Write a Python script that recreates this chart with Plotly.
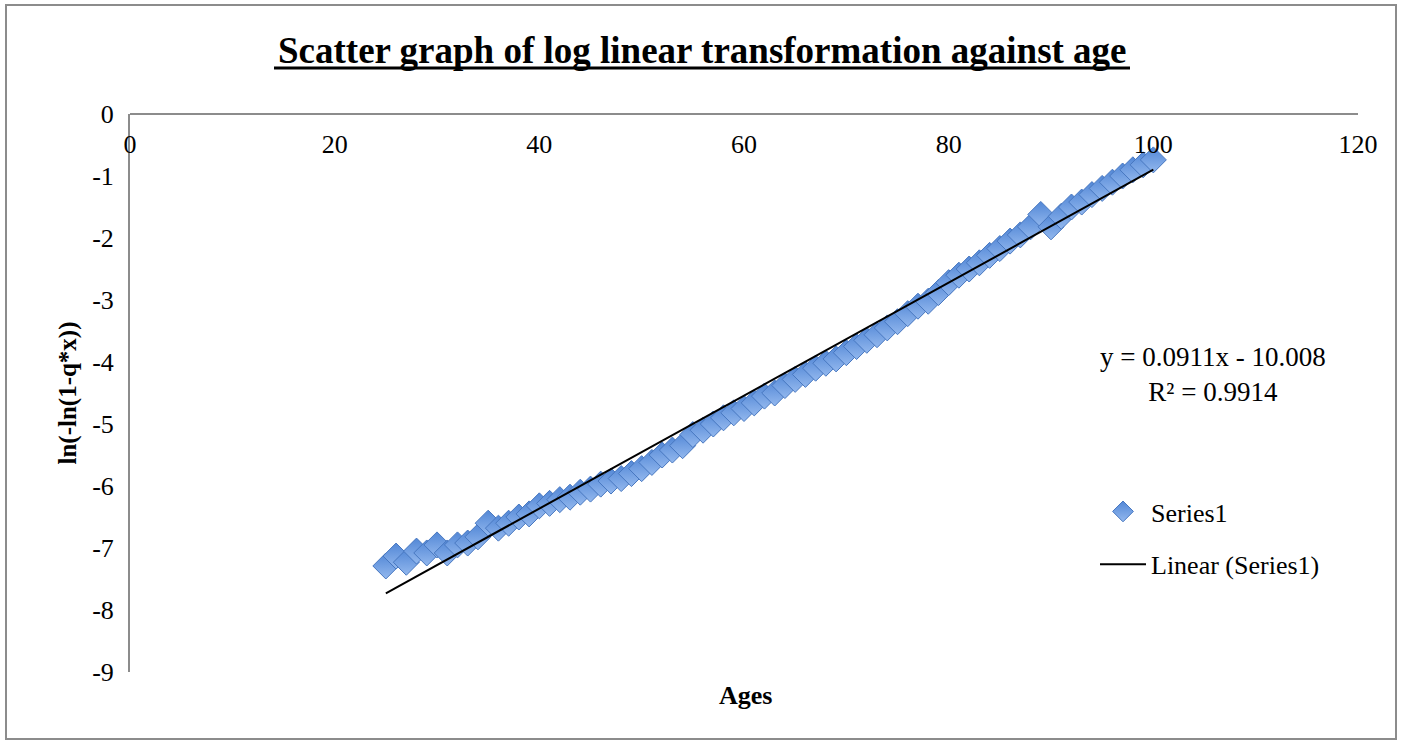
import plotly.graph_objects as go

# Ages and transformed mortality values ln(-ln(1 - q_x))
ages = list(range(25, 101))
log_values = [
    -7.29, -7.13, -7.23, -7.05, -7.08, -6.95, -7.08, -6.95, -6.92, -6.82,
    -6.60, -6.68, -6.60, -6.50, -6.45, -6.32, -6.28, -6.22, -6.18, -6.10,
    -6.05, -5.97, -5.92, -5.88, -5.80, -5.72, -5.62, -5.50, -5.42, -5.35,
    -5.17, -5.10, -5.00, -4.90, -4.82, -4.75, -4.66, -4.55, -4.50, -4.38,
    -4.28, -4.20, -4.10, -4.02, -3.95, -3.85, -3.75, -3.65, -3.56, -3.45,
    -3.35, -3.22, -3.10, -3.02, -2.88, -2.72, -2.60, -2.50, -2.40, -2.28,
    -2.17, -2.05, -1.95, -1.82, -1.62, -1.82, -1.65, -1.50, -1.42, -1.30,
    -1.20, -1.10, -1.00, -0.90, -0.82, -0.74,
]

# Linear trendline coefficients
slope = 0.0911
intercept = -10.008
r_squared = 0.9914

x_ticks = [0, 20, 40, 60, 80, 100, 120]
y_ticks = [0, -1, -2, -3, -4, -5, -6, -7, -8, -9]
y_tick_text = ["0", "-1", "-2", "-3", "-4", "-5", "-6", "-7", "-8", "-9"]

trend_x = [ages[0], ages[-1]]
trend_y = [slope * a + intercept for a in trend_x]

FONT = "Liberation Serif, Times New Roman, serif"

# plot-area geometry in pixels (used to place text in paper units)
L, R, T, B = 130, 43, 114, 72
W, H = 1401 - L - R, 744 - T - B


def px_x(p):
    return (p - L) / W


def px_y(p):
    return (744 - B - p) / H


fig = go.Figure()

fig.add_trace(go.Scatter(
    x=ages, y=log_values, mode="markers", name="Series1",
    legendgroup="a",
    marker=dict(
        symbol="diamond", size=20, color="#5287D6",
        gradient=dict(type="vertical", color="#93B8EE"),
        line=dict(color="#4777C0", width=1),
    ),
))

fig.add_trace(go.Scatter(
    x=trend_x, y=trend_y, mode="lines", name="Linear (Series1)",
    legendgroup="b",
    line=dict(color="black", width=2),
))

fig.update_layout(
    width=1401, height=744,
    margin=dict(l=L, r=R, t=T, b=B),
    paper_bgcolor="white", plot_bgcolor="white",
    font=dict(family=FONT, size=26, color="black"),
    showlegend=True,
    legend=dict(
        x=px_x(1095), y=px_y(538), xanchor="left", yanchor="middle",
        bgcolor="rgba(0,0,0,0)", tracegroupgap=16, itemwidth=46,
        font=dict(family=FONT, size=26),
    ),
    xaxis=dict(
        range=[0, 120], tickvals=x_ticks,
        side="bottom", anchor="free", position=1,
        showline=True, linecolor="#8C8C8C", linewidth=2,
        showgrid=False, zeroline=False, ticks="",
        ticklabelstandoff=7,
        tickfont=dict(family=FONT, size=26),
        title=None,
    ),
    yaxis=dict(
        range=[-9, 0], tickvals=y_ticks, ticktext=y_tick_text,
        showline=True, linecolor="#8C8C8C", linewidth=2,
        showgrid=False, zeroline=False, ticks="",
        ticklabelstandoff=9,
        tickfont=dict(family=FONT, size=26),
        title=dict(text="<b>ln(-ln(1-q*x))</b>", standoff=8,
                   font=dict(family=FONT, size=25)),
    ),
    annotations=[
        dict(text="<b>Scatter graph of log linear transformation against age</b>",
             xref="paper", yref="paper", x=px_x(702), y=px_y(50),
             xanchor="center", yanchor="middle", showarrow=False,
             font=dict(family=FONT, size=37)),
        dict(text="<b>Ages</b>", xref="paper", yref="paper",
             x=px_x(745), y=px_y(695),
             xanchor="center", yanchor="middle", showarrow=False,
             font=dict(family=FONT, size=26)),
        dict(text=f"y = {slope}x - {abs(intercept)}<br>R² = {r_squared}",
             xref="paper", yref="paper",
             x=px_x(1213), y=px_y(374),
             xanchor="center", yanchor="middle", align="center",
             showarrow=False, font=dict(family=FONT, size=27)),
    ],
    shapes=[
        # chart frame
        dict(type="rect", xref="paper", yref="paper",
             x0=px_x(6), x1=px_x(1396), y0=px_y(739), y1=px_y(5),
             line=dict(color="#8C8C8C", width=2), fillcolor="rgba(0,0,0,0)",
             layer="below"),
        # title underline
        dict(type="line", xref="paper", yref="paper",
             x0=px_x(274), x1=px_x(1130), y0=px_y(68), y1=px_y(68),
             line=dict(color="black", width=3)),
    ],
)

fig.write_html("out.html")
